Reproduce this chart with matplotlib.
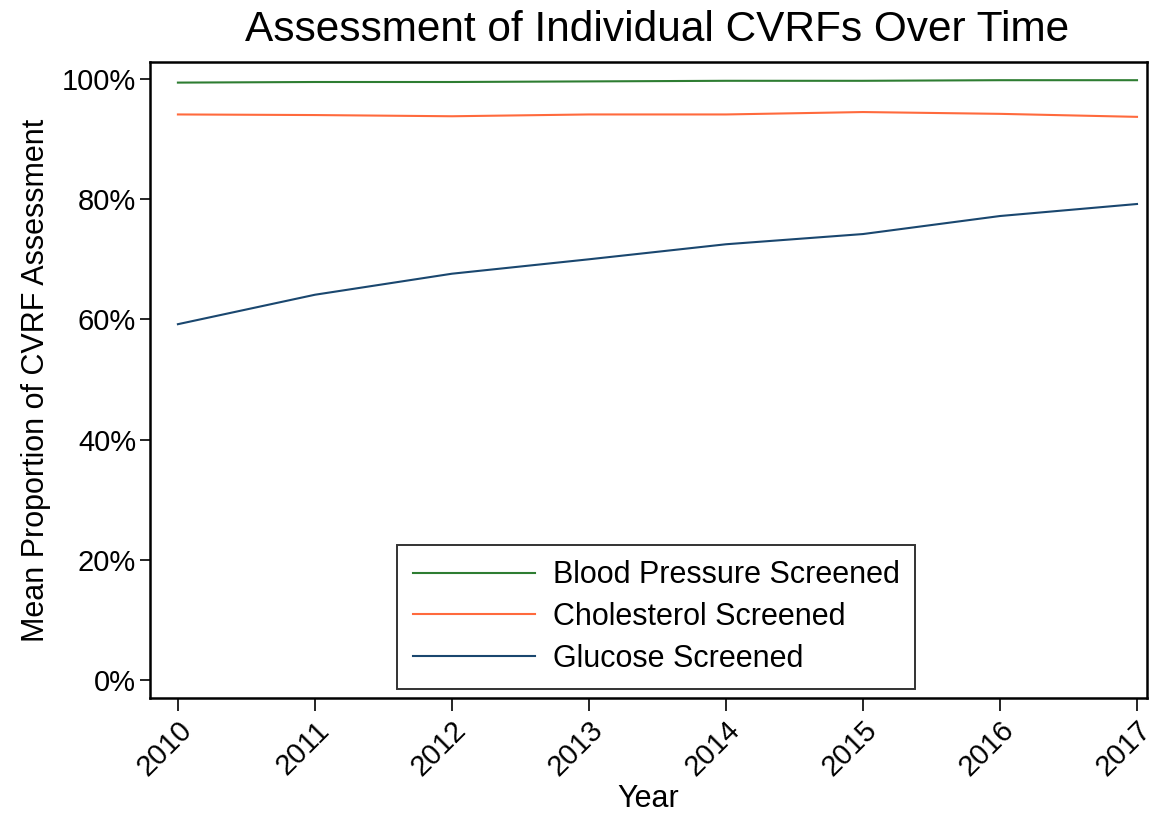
import numpy as np
import matplotlib.pyplot as plt
from matplotlib.ticker import FuncFormatter

plt.rcParams['font.family'] = ['Liberation Sans', 'DejaVu Sans']

years = [2010, 2011, 2012, 2013, 2014, 2015, 2016, 2017]
blood_pressure = [99.4, 99.5, 99.5, 99.6, 99.7, 99.7, 99.8, 99.8]
cholesterol = [94.1, 94.0, 93.8, 94.1, 94.1, 94.5, 94.2, 93.7]
glucose = [59.2, 64.1, 67.6, 70.0, 72.5, 74.2, 77.2, 79.2]

series_labels = ["Blood Pressure Screened", "Cholesterol Screened", "Glucose Screened"]
colors = ["#2e7d32", "#ff6a3d", "#1a476f"]

fig = plt.figure(figsize=(11.5, 8.18), dpi=100)
ax = fig.add_axes([0.1304, 0.1467, 0.867, 0.7773])

for vals, lab, col in zip([blood_pressure, cholesterol, glucose], series_labels, colors):
    ax.plot(years, vals, color=col, linewidth=1.5, label=lab)

ax.set_xlim(2009.796, 2017.073)
ax.set_ylim(-3.0, 102.8)
ax.set_xticks(years)
ax.set_xticklabels([str(y) for y in years], rotation=45, ha='right',
                   rotation_mode='anchor', fontsize=21)
ax.set_yticks([0, 20, 40, 60, 80, 100])
ax.yaxis.set_major_formatter(FuncFormatter(lambda v, p: f"{int(v)}%"))
ax.tick_params(axis='y', labelsize=21, length=7, width=1.2, pad=3)
ax.tick_params(axis='x', length=9, width=1.2, pad=4)

for s in ax.spines.values():
    s.set_linewidth(1.8)

ax.set_xlabel("Year", fontsize=22, labelpad=2)
ax.set_ylabel("Mean Proportion of CVRF Assessment", fontsize=22, labelpad=8)
fig.text(0.571, 0.963, "Assessment of Individual CVRFs Over Time",
         fontsize=30.5, ha='center', va='center')

leg = ax.legend(loc='lower center', bbox_to_anchor=(0.508, 0.0), fontsize=22,
                frameon=True, fancybox=False, edgecolor='black',
                handlelength=4.0, handletextpad=0.6, borderpad=0.5,
                labelspacing=0.38, borderaxespad=0.3)
leg.get_frame().set_linewidth(1.4)

fig.savefig("out.png", dpi=100)
